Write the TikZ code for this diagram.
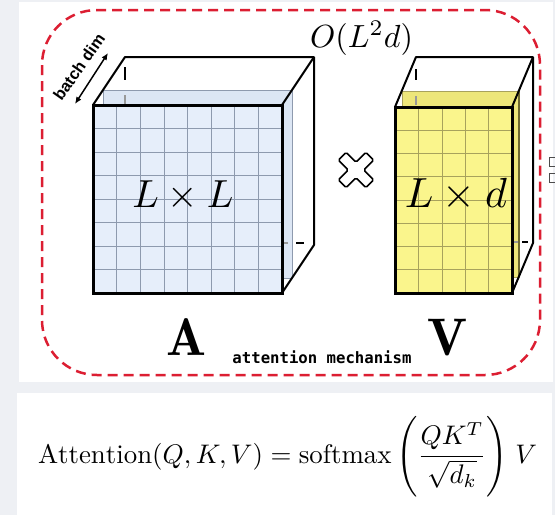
\documentclass[tikz,border=0pt]{standalone}
\usepackage{fontspec}
\usepackage{graphicx}
\newfontfamily\monofont{DejaVu Sans Mono}
\newfontfamily\labelfont{Liberation Sans}
\usetikzlibrary{arrows.meta}
\definecolor{bggray}{HTML}{EEF0F4}
\definecolor{dashred}{HTML}{DC1E32}
\definecolor{afill}{HTML}{E6EEFA}
\definecolor{aslice}{HTML}{DCE6F4}
\definecolor{agrid}{HTML}{8E9AAE}
\definecolor{vfill}{HTML}{FAF58C}
\definecolor{vslice}{HTML}{EDE67A}
\definecolor{vgrid}{HTML}{A8A25C}
\definecolor{vedge}{HTML}{6E6A30}
\tikzset{
  wire/.style={black, line width=2pt, line join=round},
  frontedge/.style={black, line width=3pt, line join=miter},
  tickblack/.style={black, line width=2pt},
  tickgray/.style={gray!80, line width=2pt},
  txt/.style={inner sep=0pt, outer sep=0pt},
}
\begin{document}
\begin{tikzpicture}[x=1pt,y=-1pt]
\useasboundingbox (0,0) rectangle (555,515);
% panels
\fill[bggray] (0,0) rectangle (555,515);
\fill[white] (19,2) rectangle (553,382);
\fill[white] (17,393) rectangle (552,515);
% copy icon remnants
\draw[gray!60!black, line width=0.8pt] (555,157) -- (549,157) -- (549,166) -- (555,166);
\draw[gray!60!black, line width=0.8pt] (555,173) -- (549,173) -- (549,182) -- (555,182);
% red dashed frame
\draw[dashred, line width=2.5pt, dash pattern=on 10pt off 6pt, rounded corners=55pt] (42,10) rectangle (540,375);

% ---------------- box A ----------------
\coordinate (aF1) at (93,105);
\coordinate (aF2) at (282,105);
\coordinate (aF3) at (282,293);
\coordinate (aB1) at (125,57);
\coordinate (aB2) at (314,57);
\coordinate (aB3) at (314,245);
\filldraw[fill=aslice, draw=agrid, line width=0.8pt] (103,90) rectangle (292,278);
\draw[tickblack] (125,67) -- (125,80);
\draw[tickgray] (125,95) -- (125,104);
\draw[tickgray] (281,243) -- (288,243);
\draw[tickblack] (296,243) -- (304,243);
\draw[wire] (aF1) -- (aB1) -- (aB2) -- (aB3) -- (aF3);
\draw[wire] (aF2) -- (aB2);
\fill[afill] (aF1) rectangle (aF3);
\foreach \i in {1,...,7} {
  \draw[agrid, line width=0.6pt] ({93+\i*189/8},105) -- ++(0,188);
  \draw[agrid, line width=0.6pt] (93,{105+\i*188/8}) -- ++(189,0);
}
\draw[frontedge] (aF1) rectangle (aF3);

% ---------------- box V ----------------
\coordinate (vF1) at (395,107);
\coordinate (vF2) at (512,107);
\coordinate (vF3) at (512,293);
\coordinate (vB1) at (416,57);
\coordinate (vB2) at (533,57);
\coordinate (vB3) at (533,243);
\fill[vslice] (402,91) rectangle (519,277);
\draw[vgrid, line width=0.8pt] (402,91) rectangle (519,277);
\draw[vedge, line width=1.2pt] (519,91) -- (519,277);
\draw[tickblack] (416,69) -- (416,80);
\draw[tickgray] (416,96) -- (416,105);
\draw[tickgray] (513,242) -- (518,242);
\draw[tickblack] (522,242) -- (528,242);
\draw[wire] (vF1) -- (vB1) -- (vB2) -- (vB3) -- (vF3);
\draw[wire] (vF2) -- (vB2);
\fill[vfill] (vF1) rectangle (vF3);
\foreach \i in {1,...,4} {
  \draw[vgrid, line width=0.6pt] ({395+\i*117/5},107) -- ++(0,186);
}
\foreach \i in {1,...,7} {
  \draw[vgrid, line width=0.6pt] (395,{107+\i*186/8}) -- ++(117,0);
}
\draw[frontedge] (vF1) rectangle (vF3);

% ---------------- labels ----------------
\node[txt, anchor=base] (cost) at (361.5,47.5) {\resizebox{103pt}{!}{$O(L^2d)$}};
\node[txt, anchor=base] (alabel) at (183,207) {\resizebox{101pt}{!}{$L\times L$}};
\node[txt, anchor=base] (vlabel) at (456,207) {\resizebox{102pt}{!}{$L\times d$}};
\node[txt, anchor=base] (Aname) at (187,355) {\resizebox{40pt}{!}{$\mathbf{A}$}};
\node[txt, anchor=base] (Vname) at (448,355) {\resizebox{40pt}{!}{$\mathbf{V}$}};
\node[txt, anchor=base] (mech) at (322,363) {\resizebox{179pt}{!}{\monofont\bfseries attention mechanism}};
\node[txt, rotate=55] (batch) at (79,67) {\resizebox{77pt}{!}{\labelfont\bfseries batch dim}};

% batch arrow
\coordinate (ar1) at (75,104);
\coordinate (ar2) at (108,53);
\draw[{Latex[length=7pt,width=6pt]}-{Latex[length=7pt,width=6pt]}, line width=1.5pt] (ar1) -- (ar2);

% multiply cross
\begin{scope}[shift={(356,170)}, rotate=45]
\draw[black, line width=1.6pt, fill=white, rounded corners=1.5pt, line join=round]
  (5.5,19.5) -- (5.5,5.5) -- (19.5,5.5) -- (19.5,-5.5) -- (5.5,-5.5) -- (5.5,-19.5)
  -- (-5.5,-19.5) -- (-5.5,-5.5) -- (-19.5,-5.5) -- (-19.5,5.5) -- (-5.5,5.5) -- (-5.5,19.5) -- cycle;
\end{scope}

% formula
\node[txt, anchor=base west] (formula) at (38,463) {\resizebox{499pt}{!}{$\displaystyle \mathrm{Attention}(Q,K,V) = \mathrm{softmax}\,\Biggl(\frac{QK^T}{\sqrt{d_k}}\Biggr)\;V$}};
\end{tikzpicture}
\end{document}
